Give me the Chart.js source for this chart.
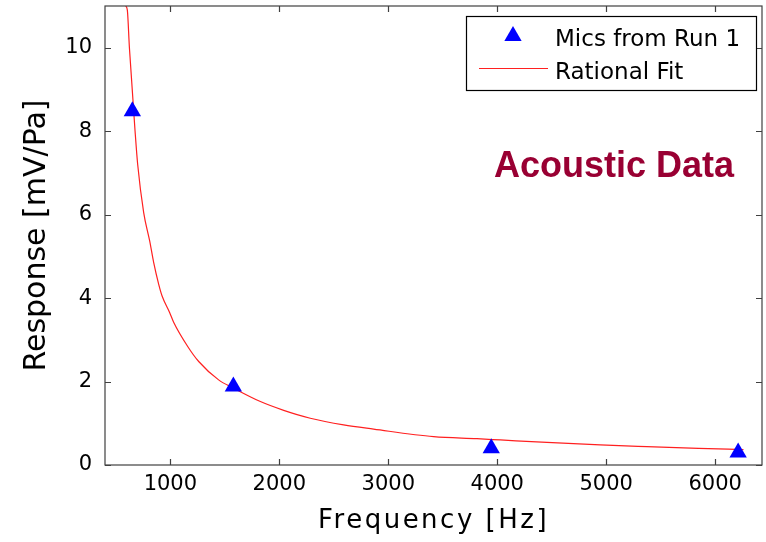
<!DOCTYPE html>
<html>
<head>
<meta charset="utf-8">
<script src="https://cdn.jsdelivr.net/npm/chart.js@4/dist/chart.umd.min.js"></script>
<style>
  html, body { margin: 0; padding: 0; background: #fff; }
  #wrap { width: 766px; height: 542px; }
</style>
</head>
<body>
<div id="wrap"><canvas id="c" width="766" height="542"></canvas></div>
<script>
// --- data ---
const micFreq = [651, 1578, 3945, 6211];
const micResp = [8.48, 1.88, 0.40, 0.30];

const fitFreq = [590, 605, 624, 676, 700, 755, 810, 847, 893, 924, 994, 1030, 1159, 1260, 1443, 1581, 1826, 2040, 2284, 2590, 2865, 3416, 3814, 4028, 4456, 4945, 5373, 5847, 6260];
const fitResp = [11.0, 10.9, 10.0, 8.0, 7.2, 6.05, 5.37, 4.85, 4.33, 4.05, 3.65, 3.42, 2.84, 2.48, 2.04, 1.84, 1.52, 1.31, 1.12, 0.96, 0.86, 0.68, 0.63, 0.60, 0.54, 0.48, 0.44, 0.40, 0.37];

const xTicks = [1000, 2000, 3000, 4000, 5000, 6000];
const yTicks = [0, 2, 4, 6, 8, 10];

const seriesNames = ['Mics from Run 1', 'Rational Fit'];
const xTitle = 'Frequency [Hz]';
const yTitle = 'Response [mV/Pa]';
const note = 'Acoustic Data';

const axisColor = '#404040';

// box, inward ticks, titles, legend, note
const frame = {
  id: 'frame',
  afterDraw(chart) {
    const ctx = chart.ctx, a = chart.chartArea;
    const xs = chart.scales.x, ys = chart.scales.y;
    ctx.save();
    ctx.strokeStyle = axisColor;
    ctx.lineWidth = 1.2;
    ctx.strokeRect(a.left, a.top, a.right - a.left, a.bottom - a.top);
    ctx.beginPath();
    xTicks.forEach(v => {
      const px = Math.round(xs.getPixelForValue(v)) + 0.5;
      ctx.moveTo(px, a.bottom); ctx.lineTo(px, a.bottom - 6);
      ctx.moveTo(px, a.top); ctx.lineTo(px, a.top + 6);
    });
    yTicks.forEach(v => {
      const py = Math.round(ys.getPixelForValue(v)) + 0.5;
      ctx.moveTo(a.left, py); ctx.lineTo(a.left + 6, py);
      ctx.moveTo(a.right, py); ctx.lineTo(a.right - 6, py);
    });
    ctx.stroke();

    // axis titles
    ctx.fillStyle = '#000';
    ctx.font = '26px "DejaVu Sans"';
    ctx.letterSpacing = '2.5px';
    ctx.textAlign = 'center';
    ctx.textBaseline = 'alphabetic';
    ctx.fillText(xTitle, (a.left + a.right) / 2, 528);
    ctx.save();
    ctx.translate(45, (a.top + a.bottom) / 2);
    ctx.rotate(-Math.PI / 2);
    ctx.letterSpacing = '0px';
    ctx.font = '30px "DejaVu Sans"';
    ctx.fillText(yTitle, 0, 0);
    ctx.restore();

    // legend
    ctx.letterSpacing = '0px';
    ctx.fillStyle = '#fff';
    ctx.fillRect(466, 16, 290, 74);
    ctx.strokeStyle = '#000';
    ctx.lineWidth = 1.2;
    ctx.strokeRect(466.5, 16.5, 290, 74);
    const pts = chart.data.datasets[0];
    ctx.fillStyle = pts.backgroundColor;
    const r = 10;
    ctx.beginPath();
    ctx.moveTo(513, 36 - r);
    ctx.lineTo(513 + r * 0.866, 36 + r / 2);
    ctx.lineTo(513 - r * 0.866, 36 + r / 2);
    ctx.closePath();
    ctx.fill();
    ctx.strokeStyle = chart.data.datasets[1].borderColor;
    ctx.lineWidth = 1.2;
    ctx.beginPath();
    ctx.moveTo(479, 68.5); ctx.lineTo(548, 68.5);
    ctx.stroke();
    ctx.fillStyle = '#000';
    ctx.font = '23px "DejaVu Sans"';
    ctx.textAlign = 'left';
    ctx.fillText(seriesNames[0], 555, 46);
    ctx.fillText(seriesNames[1], 555, 79);

    // annotation
    ctx.fillStyle = '#990033';
    ctx.font = 'bold 36px "Liberation Sans"';
    ctx.fillText(note, 494, 177);
    ctx.restore();
  }
};

new Chart(document.getElementById('c'), {
  type: 'scatter',
  data: {
    datasets: [
      {
        label: seriesNames[0],
        data: micFreq.map((f, i) => ({ x: f, y: micResp[i] })),
        pointStyle: 'triangle',
        pointRadius: 10,
        pointHoverRadius: 10,
        backgroundColor: '#0000ff',
        borderColor: '#0000ff',
        borderWidth: 0,
        order: 0
      },
      {
        label: seriesNames[1],
        data: fitFreq.map((f, i) => ({ x: f, y: fitResp[i] })),
        showLine: true,
        pointRadius: 0,
        borderColor: '#ff2020',
        borderWidth: 1.2,
        cubicInterpolationMode: 'monotone',
        order: 1
      }
    ]
  },
  options: {
    responsive: false,
    animation: false,
    events: [],
    layout: { autoPadding: false, padding: { top: 6, right: 4, left: 0, bottom: 0 } },
    plugins: { legend: { display: false }, tooltip: { enabled: false } },
    scales: {
      x: {
        type: 'linear',
        min: 400, max: 6430,
        afterFit(s) { s.height = 77; s.paddingLeft = 0; s.paddingRight = 0; },
        afterBuildTicks(s) { s.ticks = xTicks.map(v => ({ value: v })); },
        grid: { display: false, drawTicks: false },
        border: { display: false },
        ticks: { color: '#000', padding: 7, font: { family: 'DejaVu Sans', size: 21 }, maxRotation: 0, callback: v => String(v) }
      },
      y: {
        type: 'linear',
        min: 0, max: 11,
        afterFit(s) { s.width = 105; s.paddingTop = 0; s.paddingBottom = 0; },
        afterBuildTicks(s) { s.ticks = yTicks.map(v => ({ value: v })); },
        grid: { display: false, drawTicks: false },
        border: { display: false },
        ticks: { color: '#000', padding: 13, font: { family: 'DejaVu Sans', size: 21 }, callback: v => String(v) }
      }
    }
  },
  plugins: [frame]
});
</script>
</body>
</html>
